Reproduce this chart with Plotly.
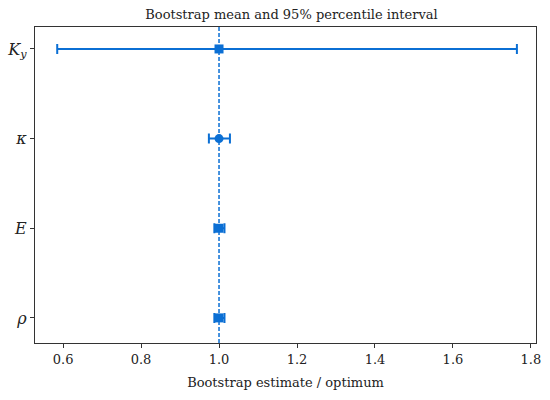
import plotly.graph_objects as go

# parameters, bottom to top
params = ['<i>ρ</i>', '<i>E</i>', '<i>κ</i>', '<i>K</i><sub><i>y</i></sub>']
ypos = [0, 1, 2, 3]
mean = [1.0, 1.0, 1.0, 1.0]
lo = [0.988, 0.988, 0.974, 0.585]
hi = [1.014, 1.014, 1.028, 1.764]
symbols = ['square', 'square', 'circle', 'square']

blue = '#0b6fd4'
serif = 'DejaVu Serif'

fig = go.Figure()

fig.add_trace(go.Scatter(
    x=mean, y=ypos, mode='markers',
    marker=dict(symbol=symbols, size=9, color=blue),
    error_x=dict(type='data', symmetric=False,
                 array=[h - m for h, m in zip(hi, mean)],
                 arrayminus=[m - l for m, l in zip(mean, lo)],
                 color=blue, thickness=2, width=5),
    showlegend=False,
))

# reference line at optimum
fig.add_shape(type='line', x0=1.0, x1=1.0, xref='x', y0=0, y1=1, yref='paper',
              line=dict(color=blue, width=1.5, dash='4px,2px'))

fig.update_layout(
    width=550, height=400,
    margin=dict(l=35, r=14, t=27, b=57),
    plot_bgcolor='white', paper_bgcolor='white',
    font=dict(family=serif, size=13, color='#222'),
    title=dict(text='Bootstrap mean and 95% percentile interval',
               x=0.53, xanchor='center', y=0.975, yanchor='top',
               font=dict(family=serif, size=13)),
)
fig.update_xaxes(
    range=[0.528, 1.813], tickvals=[0.6, 0.8, 1.0, 1.2, 1.4, 1.6, 1.8],
    tickformat='.1f', ticks='outside', ticklen=4, tickcolor='#333',
    showline=True, linecolor='#333', linewidth=1.3, mirror=True,
    showgrid=False, zeroline=False, automargin=False,
    tickfont=dict(family=serif, size=13),
    title=dict(text='Bootstrap estimate / optimum', standoff=12,
               font=dict(family=serif, size=13)),
)
fig.update_yaxes(
    range=[-0.28, 3.245], tickvals=ypos, ticktext=params,
    ticks='outside', ticklen=4, tickcolor='#333',
    showline=True, linecolor='#333', linewidth=1.3, mirror=True,
    showgrid=False, zeroline=False, automargin=False,
    tickfont=dict(family=serif, size=16),
)

# drop the page's default body margin so the figure sits at 0,0
fig.write_html('out.html', config={'displayModeBar': False},
               post_script="document.body.style.margin='0';")
